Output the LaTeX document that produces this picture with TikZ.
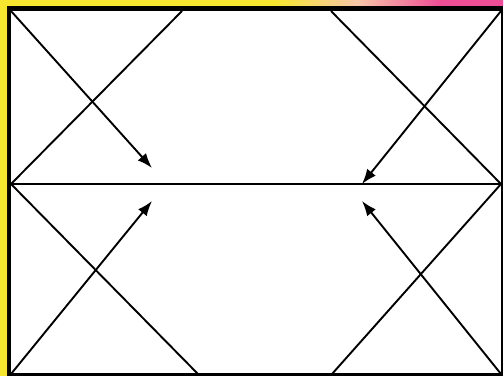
\documentclass[tikz,border=0pt]{standalone}
\usepackage{tikz}
\usetikzlibrary{arrows.meta}

\definecolor{bandyellow}{RGB}{246,230,48}
\definecolor{bandpink}{RGB}{238,78,150}

\begin{document}
\begin{tikzpicture}[
    x=1pt, y=-1pt,
    guide/.style={line width=1.9pt, black},
    pointer/.style={line width=1.9pt, black, -{Latex[length=15pt,width=11pt]}}
]

% Frame and colour bands
\useasboundingbox (0,0) rectangle (503,376);
\fill[white] (0,0) rectangle (503,376);
\fill[bandyellow] (0,0) rectangle (7,376);
\fill[bandyellow] (0,0) rectangle (275,6);
\shade[left color=bandyellow, right color=bandpink, middle color=bandyellow!50!bandpink!55!white]
  (275,0) rectangle (440,6);
\fill[bandpink] (440,0) rectangle (503,6);
\fill[black] (7,6) rectangle (503,376);
\fill[white] (11,11) rectangle (501,373);

% Corners and edge points
\coordinate (tl) at (11,11);
\coordinate (tr) at (501,11);
\coordinate (bl) at (11,374);
\coordinate (br) at (501,374);
\coordinate (ml) at (11,184);
\coordinate (mr) at (501,184);
\coordinate (t1) at (182,11);
\coordinate (t2) at (331,11);
\coordinate (b1) at (198,374);
\coordinate (b2) at (332,374);

% Arrow targets
\coordinate (a1) at (152,168);
\coordinate (a2) at (362,184);
\coordinate (a3) at (152,201);
\coordinate (a4) at (362,201);

% Middle line
\draw[guide] (ml) -- (mr);

% Crossing lines
\draw[guide] (ml) -- (t1);
\draw[guide] (t2) -- (mr);
\draw[guide] (ml) -- (b1);
\draw[guide] (mr) -- (b2);

% Arrows from the corners
\draw[pointer] (tl) -- (a1);
\draw[pointer] (tr) -- (a2);
\draw[pointer] (bl) -- (a3);
\draw[pointer] (br) -- (a4);

\end{tikzpicture}
\end{document}
